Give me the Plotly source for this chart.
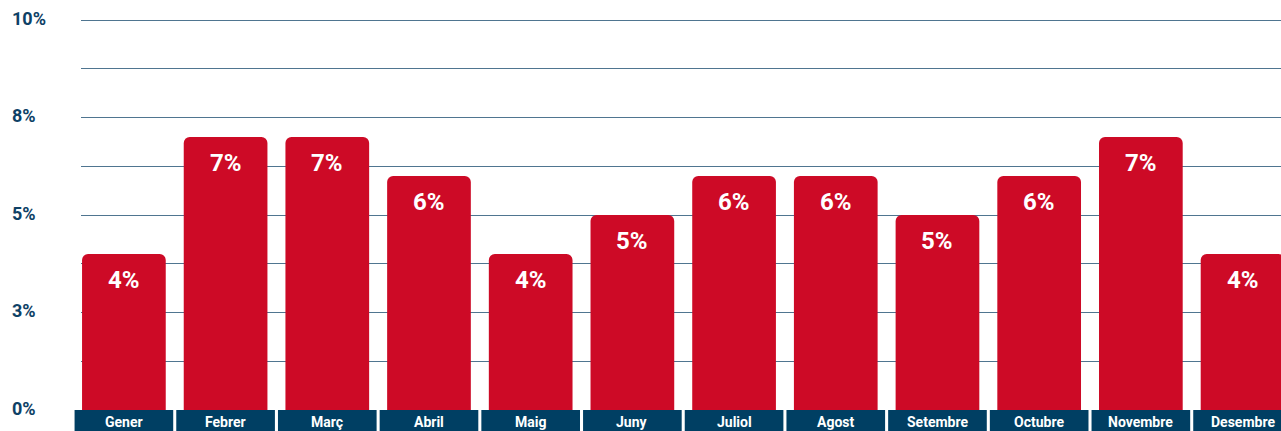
import plotly.graph_objects as go

months = ["Gener", "Febrer", "Març", "Abril", "Maig", "Juny", "Juliol",
          "Agost", "Setembre", "Octubre", "Novembre", "Desembre"]
values = [4, 7, 7, 6, 4, 5, 6, 6, 5, 6, 7, 4]
bar_labels = ["4%", "7%", "7%", "6%", "4%", "5%", "6%", "6%", "5%", "6%", "7%", "4%"]
y_tick_vals = [0, 2.5, 5, 7.5, 10]
y_tick_text = ["0%", "3%", "5%", "8%", "10%"]

RED = "#CD0A26"
NAVY = "#003F63"
TICK = "#0E4166"
GRID = "#4F7590"

x = list(range(len(months)))

PLOT_W = 1200
PLOT_H = 394
Y_TOP = PLOT_H / 39.0
X0, X1 = -0.4218, 11.378
XSPAN = X1 - X0

fig = go.Figure()
fig.add_trace(go.Bar(
    x=x, y=values, width=0.823, marker=dict(color=RED, line=dict(width=0)),
    hoverinfo="skip",
))

annotations = []
for i, (v, t) in enumerate(zip(values, bar_labels)):
    annotations.append(dict(
        x=i, y=v, xref="x", yref="y", text=t, showarrow=False,
        yanchor="middle", yshift=-26,
        font=dict(family="Roboto", size=24, color="white", weight="bold"),
    ))

shapes = []
for i, m in enumerate(months):
    shapes.append(dict(
        type="rect", xref="paper", yref="paper",
        x0=(i - 0.485 - X0) / XSPAN, x1=(i + 0.485 - X0) / XSPAN,
        y0=-23 / PLOT_H, y1=0,
        fillcolor=NAVY, line=dict(width=0), layer="above",
    ))
    annotations.append(dict(
        x=i, y=-12 / PLOT_H, xref="x", yref="paper",
        text=m, showarrow=False, yanchor="middle", xanchor="center",
        font=dict(family="Roboto", size=14, color="white", weight="bold"),
    ))

for v, t in zip(y_tick_vals, y_tick_text):
    annotations.append(dict(
        x=-71 / PLOT_W, y=v, xref="paper", yref="y", text=t, showarrow=False,
        xanchor="left", yanchor="middle", yshift=2,
        font=dict(family="Roboto", size=18, color=TICK, weight="bold"),
    ))

fig.update_layout(
    width=1281, height=431,
    margin=dict(l=81, r=0, t=16, b=21),
    paper_bgcolor="white", plot_bgcolor="white",
    showlegend=False,
    barcornerradius=6,
    hovermode=False,
    xaxis=dict(range=[X0, X1], showticklabels=False, showgrid=False,
               zeroline=False, showline=False, ticks=""),
    yaxis=dict(range=[0, Y_TOP], tickvals=[i * 1.25 for i in range(9)],
               showticklabels=False, showgrid=True, gridcolor=GRID, gridwidth=1,
               zeroline=False, showline=False, layer="below traces"),
    shapes=shapes,
    annotations=annotations,
)

fig.write_html(
    "out.html",
    config={"displayModeBar": False},
    post_script="document.body.style.margin='0';document.body.style.overflow='hidden';",
)
